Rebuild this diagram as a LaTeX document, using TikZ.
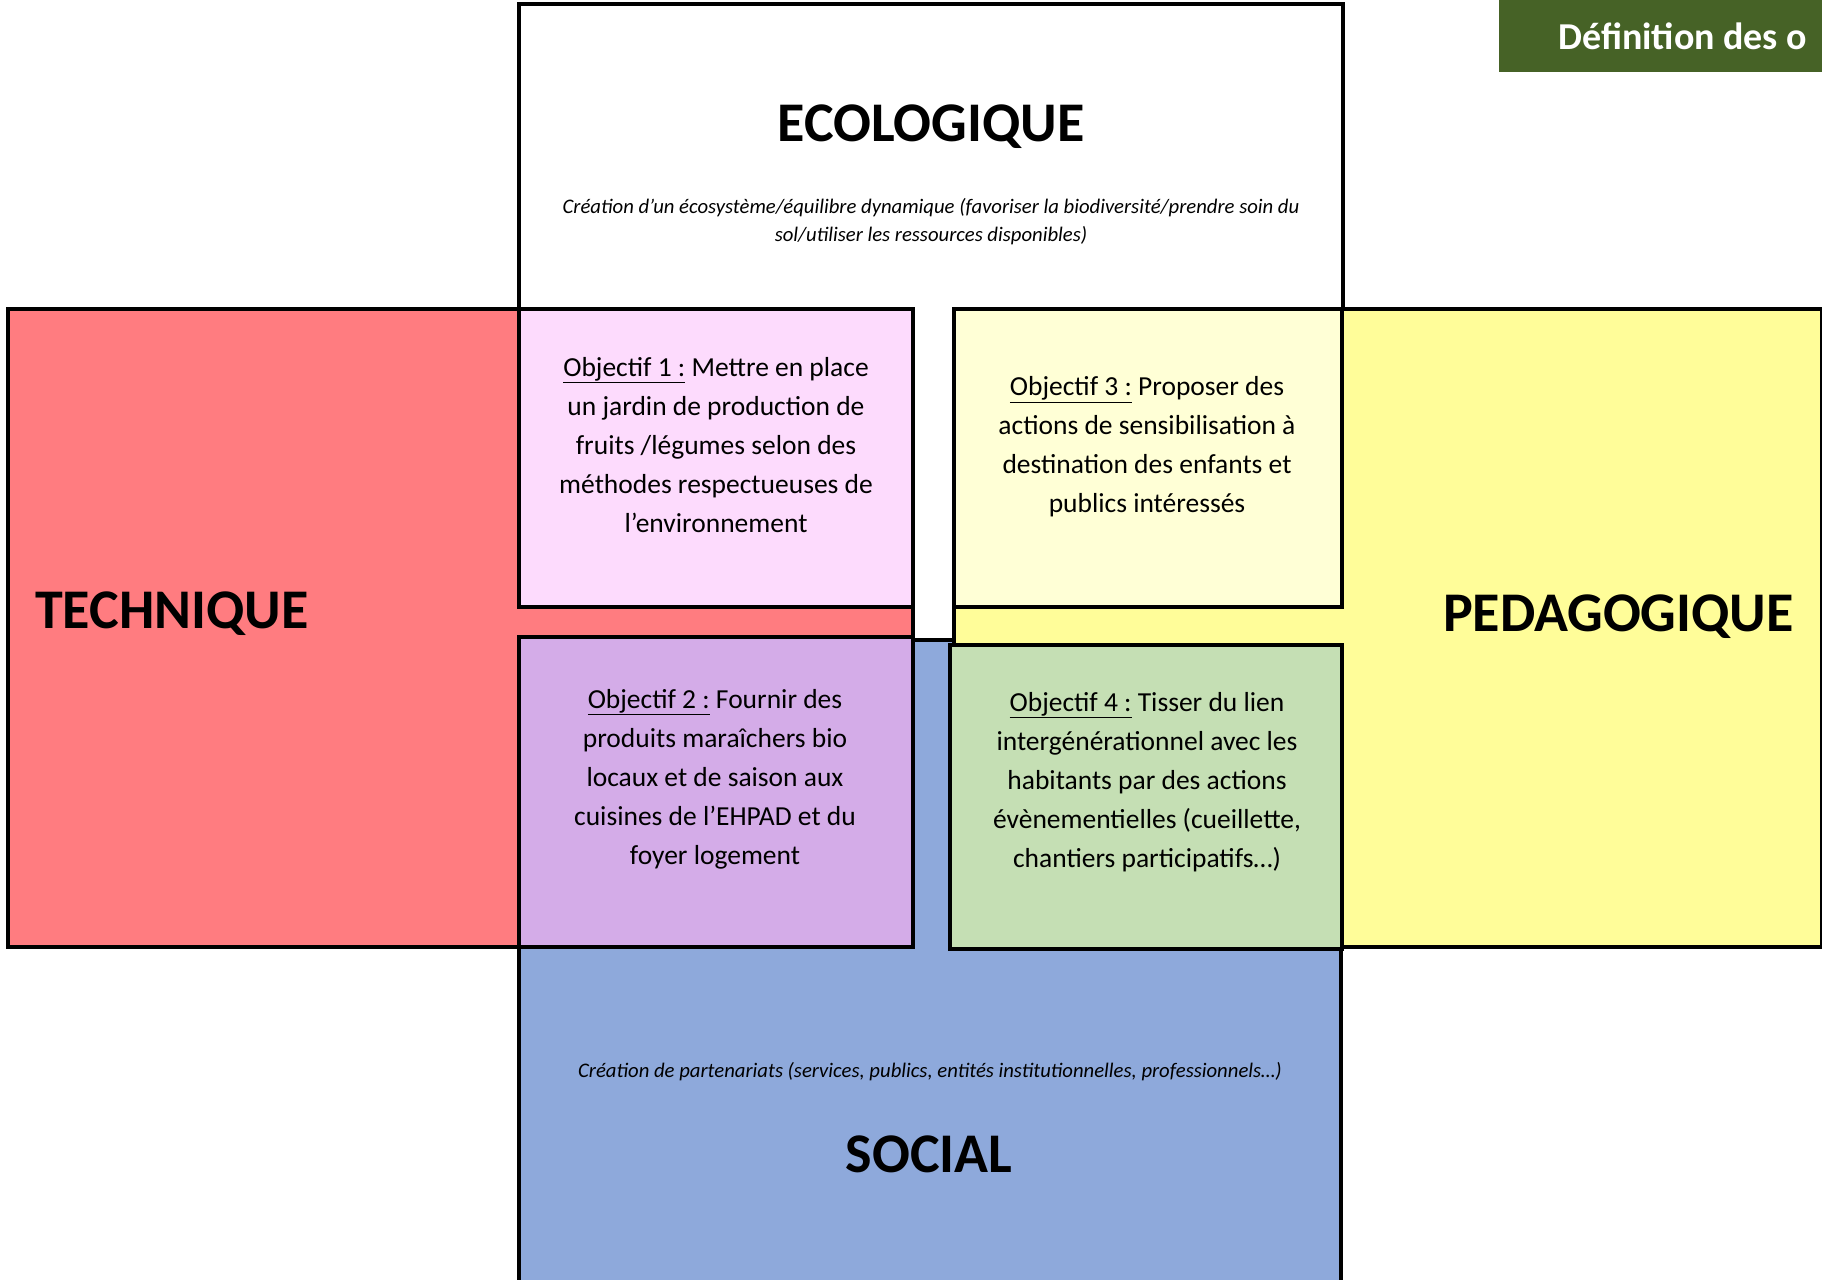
\documentclass[tikz,border=0pt]{standalone}
\usepackage{fontspec}
\setmainfont{Carlito}
\definecolor{techred}{RGB}{255,124,128}
\definecolor{pedayellow}{RGB}{255,253,153}
\definecolor{socblue}{RGB}{142,169,219}
\definecolor{objpink}{RGB}{253,219,253}
\definecolor{objcream}{RGB}{255,255,214}
\definecolor{objmauve}{RGB}{212,172,232}
\definecolor{objgreen}{RGB}{197,223,180}
\definecolor{headgreen}{RGB}{70,98,38}
\begin{document}
\begin{tikzpicture}[x=1pt,y=-1pt,
  panel/.style={draw=black, line width=3.4pt, inner sep=0pt, outer sep=0pt, anchor=north west},
  bigtitle/.style={font=\fontsize{56}{60}\selectfont\bfseries, inner sep=0pt},
  desc/.style={font=\fontsize{20.7}{28}\selectfont\itshape, align=center, inner sep=0pt},
  objtext/.style={font=\fontsize{27.5}{39}\selectfont, align=center, inner sep=0pt}]
\useasboundingbox (0,0) rectangle (1822,1279);
\clip (0,0) rectangle (1822,1279);
\fill[white] (0,0) rectangle (1822,1279);

% the four domains, back to front
\node[panel, fill=white, minimum width=824pt, minimum height=636pt] (eco) at (519,4) {};
\node[panel, fill=socblue, minimum width=822pt, minimum height=700pt] (soc) at (519,640) {};
\node[panel, fill=techred, minimum width=905pt, minimum height=638pt] (tech) at (8,309) {};
\node[panel, fill=pedayellow, minimum width=868pt, minimum height=638pt] (peda) at (954,309) {};

% the four objectives
\node[panel, fill=objpink, minimum width=394pt, minimum height=298pt] (obj1) at (519,309) {};
\node[panel, fill=objcream, minimum width=388pt, minimum height=298pt] (obj3) at (954,309) {};
\node[panel, fill=objmauve, minimum width=394pt, minimum height=310pt] (obj2) at (519,637) {};
\node[panel, fill=objgreen, minimum width=392pt, minimum height=304pt] (obj4) at (950,645) {};

% domain titles
\node[bigtitle] (ecoT) at (931,127) {ECOLOGIQUE};
\node[bigtitle, anchor=west] (techT) at (35,614) {TECHNIQUE};
\node[bigtitle, anchor=east] (pedaT) at (1794,617) {PEDAGOGIQUE};
\node[bigtitle] (socT) at (929,1154) {SOCIAL};

% domain descriptions
\node[desc] (ecoD) at (931,222) {Création d’un écosystème/équilibre dynamique (favoriser la biodiversité/prendre soin du\\sol/utiliser les ressources disponibles)};
\node[desc] (socD) at (930,1072) {Création de partenariats (services, publics, entités institutionnelles, professionnels…)};

% objective texts
\node[objtext] (obj1T) at (716,445) {\underline{Objectif 1 :} Mettre en place\\un jardin de production de\\fruits /légumes selon des\\méthodes respectueuses de\\l’environnement};
\node[objtext] (obj3T) at (1147,447) {\underline{Objectif 3 :} Proposer des\\actions de sensibilisation à\\destination des enfants et\\publics intéressés};
\node[objtext] (obj2T) at (715,779) {\underline{Objectif 2 :} Fournir des\\produits maraîchers bio\\locaux et de saison aux\\cuisines de l’EHPAD et du\\foyer logement};
\node[objtext] (obj4T) at (1147,782) {\underline{Objectif 4 :} Tisser du lien\\intergénérationnel avec les\\habitants par des actions\\évènementielles (cueillette,\\chantiers participatifs…)};

% header banner
\node[fill=headgreen, inner sep=0pt, outer sep=0pt, anchor=north west, minimum width=330pt, minimum height=72pt] (head) at (1499,0) {};
\node[anchor=west, inner sep=0pt, text=white, font=\fontsize{38}{42}\selectfont\bfseries] (headT) at (1558,36) {Définition des o};
\end{tikzpicture}
\end{document}
